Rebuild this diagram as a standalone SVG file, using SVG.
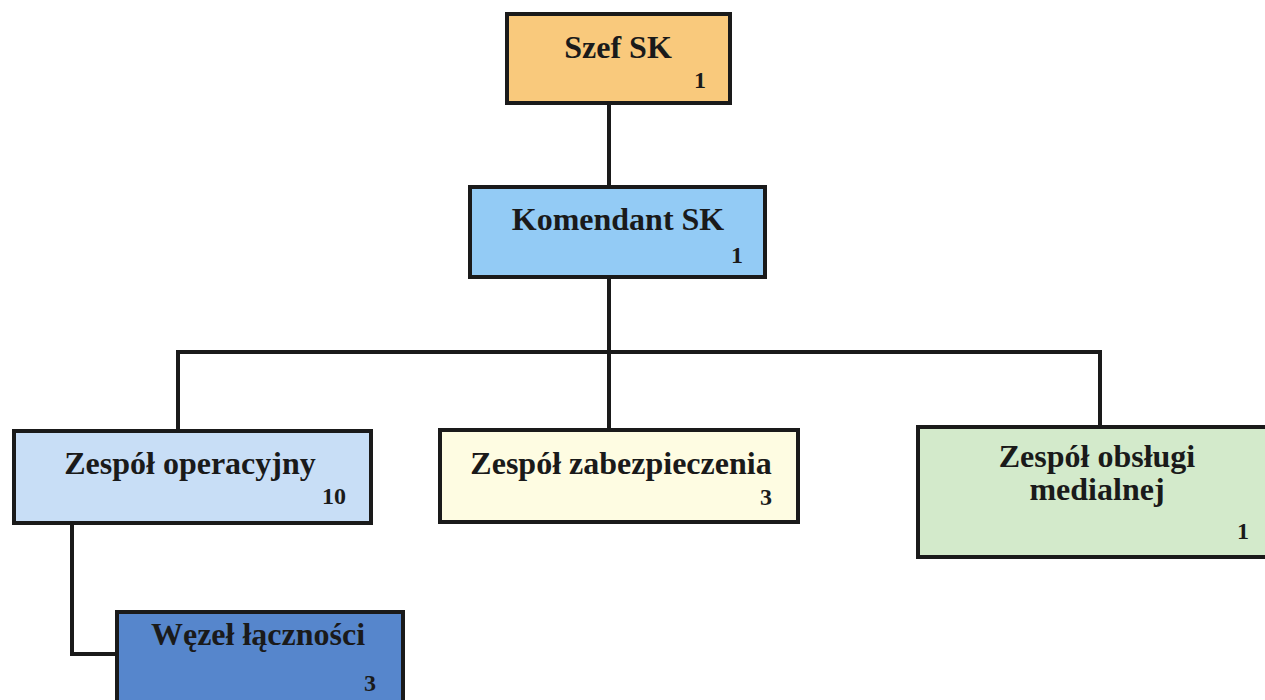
<svg xmlns="http://www.w3.org/2000/svg" width="1265" height="700" viewBox="0 0 1265 700">
<style>
.box{stroke:#1a1a1a;stroke-width:4}
.t{font-family:"Liberation Serif","Times New Roman",serif;font-weight:bold;font-size:32px;fill:#1a1a1a;text-anchor:middle}
.n{font-family:"Liberation Serif","Times New Roman",serif;font-weight:bold;font-size:24px;fill:#1a1a1a;text-anchor:end}
.c{fill:none;stroke:#1a1a1a;stroke-width:4}
</style>
<rect width="1265" height="700" fill="#ffffff"/>
<g id="connectors">
<line class="c" x1="609" y1="103" x2="609" y2="187"/>
<line class="c" x1="609" y1="277" x2="609" y2="430"/>
<polyline class="c" points="178,431 178,352 1100,352 1100,427"/>
<polyline class="c" points="72,523 72,654 117,654"/>
</g>
<g id="szef">
<rect class="box" x="507" y="14" width="223" height="89" fill="#F9C97C"/>
<text class="t" x="618" y="58">Szef SK</text>
<text class="n" x="706" y="88">1</text>
</g>
<g id="komendant">
<rect class="box" x="470" y="187" width="295" height="90" fill="#93CBF5"/>
<text class="t" x="618" y="230">Komendant SK</text>
<text class="n" x="743" y="263">1</text>
</g>
<g id="operacyjny">
<rect class="box" x="14" y="431" width="357" height="92" fill="#C8DEF6"/>
<text class="t" x="190" y="474">Zespół operacyjny</text>
<text class="n" x="346" y="504">10</text>
</g>
<g id="zabezpieczenia">
<rect class="box" x="440" y="430" width="358" height="92" fill="#FEFCE2"/>
<text class="t" x="621" y="474">Zespół zabezpieczenia</text>
<text class="n" x="772" y="505">3</text>
</g>
<g id="obslugi">
<rect class="box" x="918" y="427" width="350" height="130" fill="#D3EACB"/>
<text class="t" x="1097" y="467">Zespół obsługi</text>
<text class="t" x="1097" y="500">medialnej</text>
<text class="n" x="1249" y="539">1</text>
</g>
<g id="wezel">
<rect class="box" x="117" y="612" width="286" height="100" fill="#5686CC"/>
<text class="t" x="258" y="645">Węzeł łączności</text>
<text class="n" x="376" y="691">3</text>
</g>
</svg>
